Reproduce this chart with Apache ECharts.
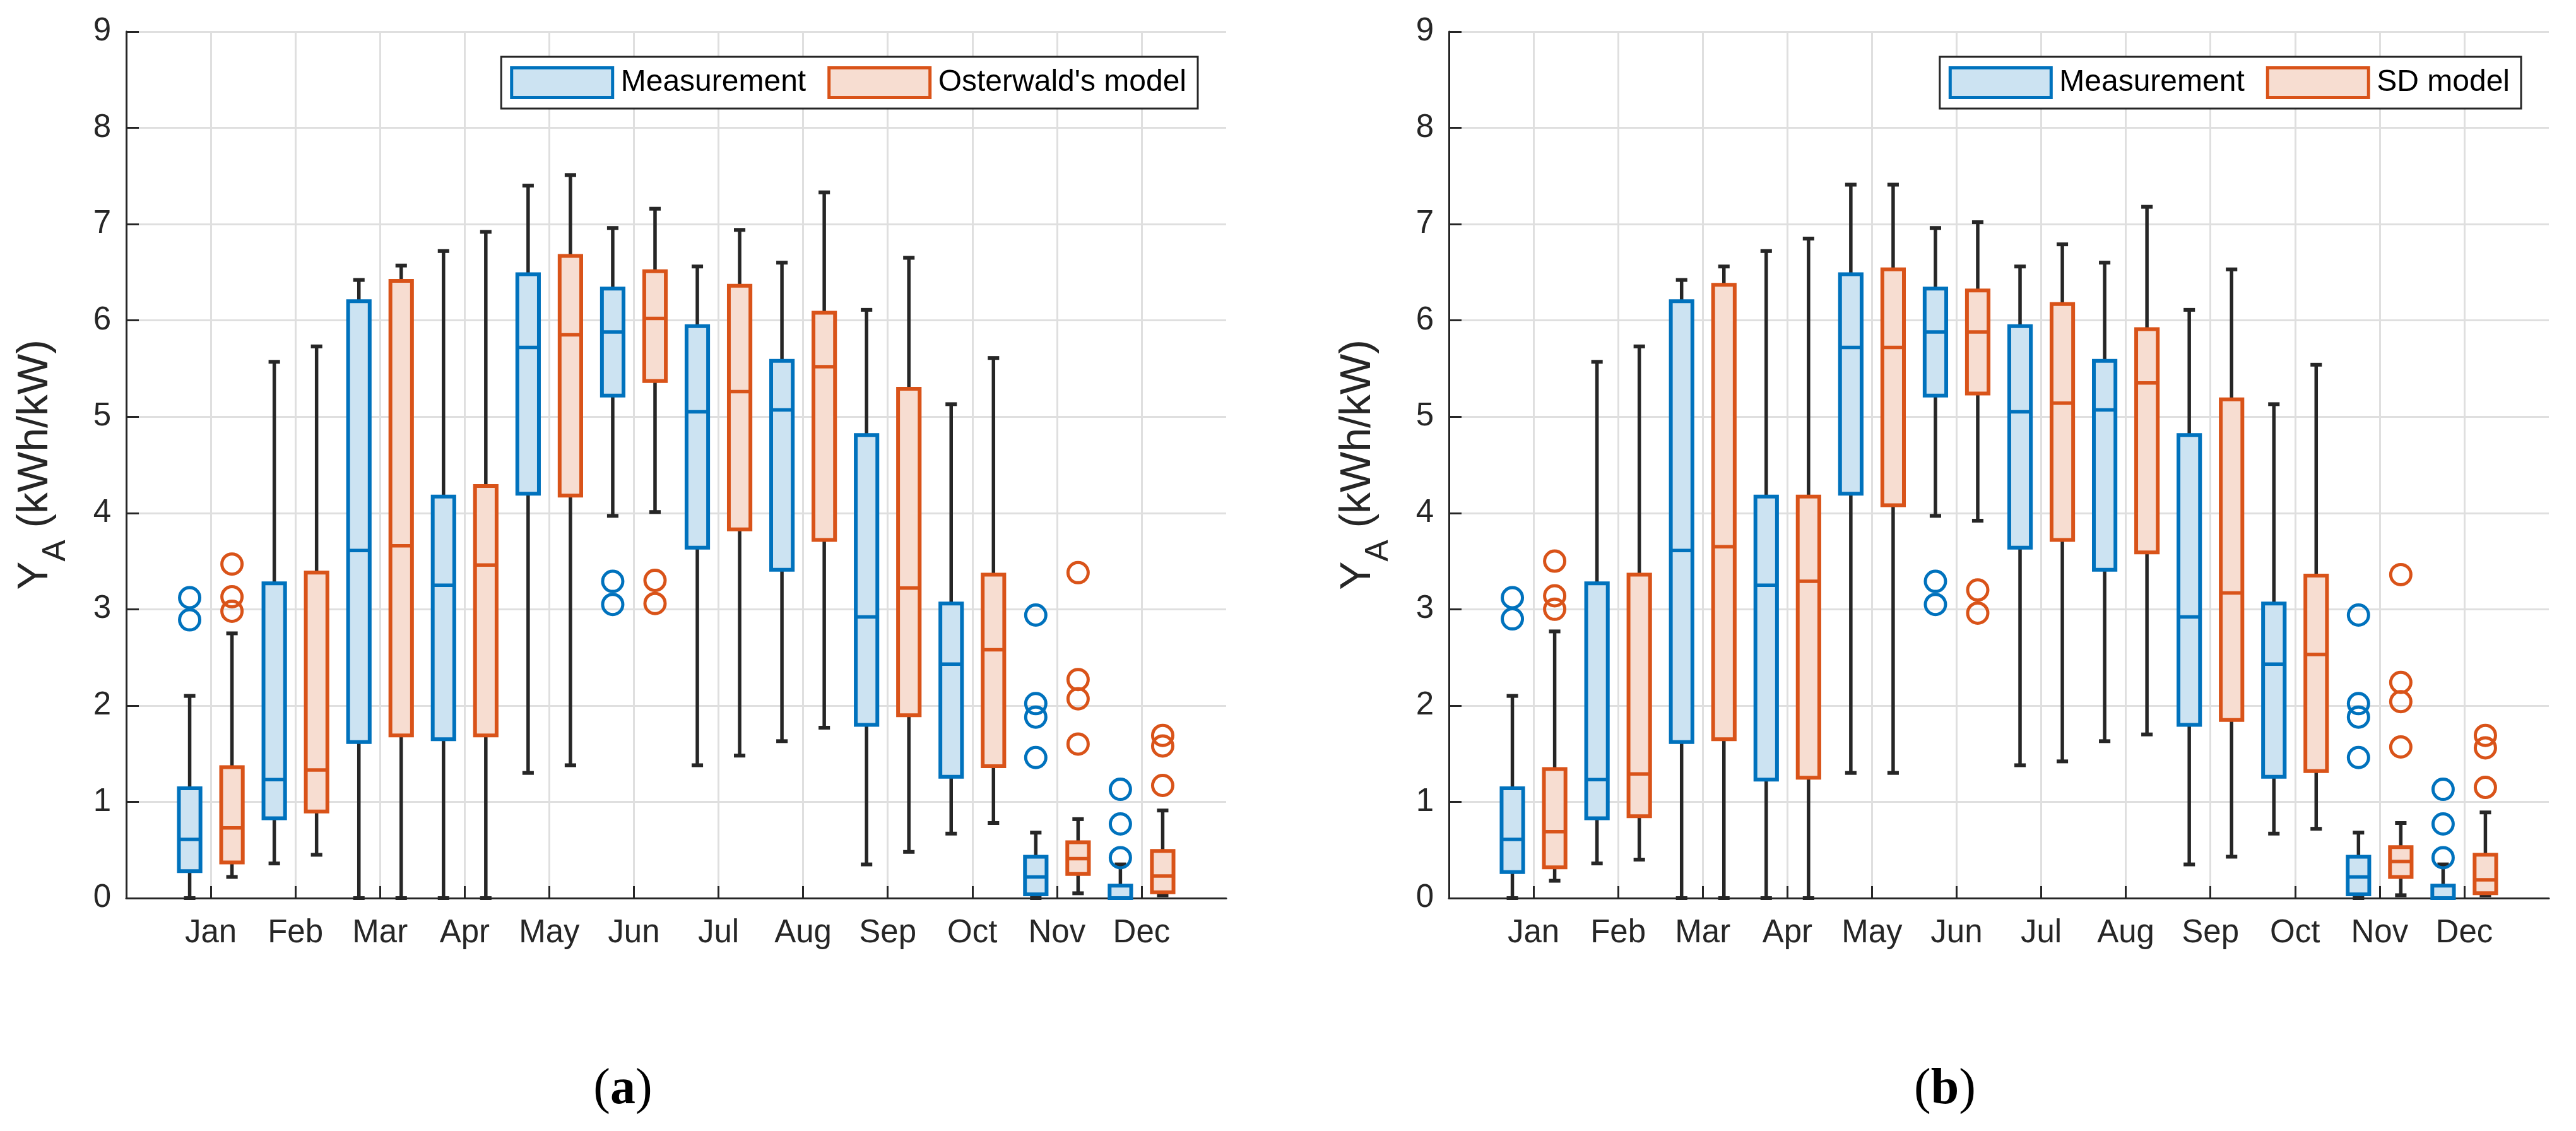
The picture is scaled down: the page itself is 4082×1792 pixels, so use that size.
<!DOCTYPE html>
<html>
<head>
<meta charset="utf-8">
<script src="https://cdn.jsdelivr.net/npm/echarts@6/dist/echarts.min.js"></script>
<style>html,body{margin:0;padding:0;background:#fff}#c{width:4082px;height:1792px}</style>
</head>
<body>
<div id="c"></div>
<script>
// ---- data ----
const months = ['Jan','Feb','Mar','Apr','May','Jun','Jul','Aug','Sep','Oct','Nov','Dec'];
const monthTicks = [1,2,3,4,5,6,7,8,9,10,11,12];

// [lower whisker, Q1, median, Q3, upper whisker]
const measA = [
  [0.00,0.28,0.61,1.14,2.10],[0.36,0.83,1.23,3.27,5.57],[0.00,1.62,3.61,6.20,6.42],
  [0.00,1.65,3.25,4.17,6.72],[1.30,4.20,5.72,6.48,7.40],[3.97,5.22,5.88,6.33,6.96],
  [1.38,3.64,5.05,5.94,6.56],[1.63,3.41,5.07,5.58,6.60],[0.35,1.80,2.92,4.81,6.11],
  [0.67,1.26,2.43,3.06,5.13],[0.00,0.04,0.22,0.43,0.68],[0.00,0.00,0.00,0.13,0.35]
];
const osterwald = [
  [0.22,0.37,0.73,1.36,2.75],[0.45,0.90,1.33,3.38,5.73],[0.00,1.69,3.66,6.41,6.57],
  [0.00,1.69,3.46,4.28,6.92],[1.38,4.18,5.85,6.67,7.51],[4.01,5.37,6.02,6.51,7.16],
  [1.48,3.83,5.26,6.36,6.94],[1.77,3.72,5.52,6.08,7.33],[0.48,1.90,3.22,5.29,6.65],
  [0.78,1.37,2.58,3.36,5.61],[0.05,0.25,0.41,0.58,0.82],[0.03,0.06,0.23,0.49,0.91]
];
const measB = [
  [0.00,0.27,0.61,1.14,2.10],[0.36,0.83,1.23,3.27,5.57],[0.00,1.62,3.61,6.20,6.42],
  [0.00,1.23,3.25,4.17,6.72],[1.30,4.20,5.72,6.48,7.41],[3.97,5.22,5.88,6.33,6.96],
  [1.38,3.64,5.05,5.94,6.56],[1.63,3.41,5.07,5.58,6.60],[0.35,1.80,2.92,4.81,6.11],
  [0.67,1.26,2.43,3.06,5.13],[0.00,0.04,0.22,0.43,0.68],[0.00,0.00,0.00,0.13,0.35]
];
const sdModel = [
  [0.18,0.32,0.69,1.34,2.77],[0.40,0.85,1.29,3.36,5.73],[0.00,1.65,3.65,6.37,6.56],
  [0.00,1.25,3.29,4.17,6.85],[1.30,4.08,5.72,6.53,7.41],[3.92,5.24,5.88,6.31,7.02],
  [1.42,3.72,5.14,6.17,6.79],[1.70,3.59,5.35,5.91,7.18],[0.43,1.85,3.17,5.18,6.53],
  [0.72,1.32,2.53,3.35,5.54],[0.03,0.22,0.38,0.53,0.78],[0.03,0.05,0.19,0.45,0.89]
];
// outliers per month
const measOutA = [[3.12,2.89],[],[],[],[],[3.29,3.05],[],[],[],[],[2.94,2.02,1.88,1.46],[1.13,0.77,0.42]];
const osterwaldOut = [[3.47,3.13,2.98],[],[],[],[],[3.30,3.06],[],[],[],[],[3.38,2.27,2.07,1.60],[1.69,1.58,1.17]];
const measOutB = [[3.12,2.90],[],[],[],[],[3.29,3.05],[],[],[],[],[2.94,2.02,1.88,1.46],[1.13,0.77,0.42]];
const sdOut = [[3.50,3.14,3.00],[],[],[],[],[3.20,2.96],[],[],[],[],[3.36,2.24,2.04,1.57],[1.69,1.56,1.15]];

// ---- styling ----
const BLUE = '#0072BD', BLUE_FILL = '#CCE3F2';
const ORANGE = '#D95319', ORANGE_FILL = '#F7DDD1';
const INK = '#262626';
const FONT = 'Liberation Sans, Arial, Helvetica, sans-serif';
const OFFSET = 0.25, BOX_W = 0.255, CAP_W = 0.135;

function boxData(arr, shift) { return arr.map((d, i) => [i + 1 + shift].concat(d)); }
function outData(arr, shift) {
  const out = [];
  arr.forEach((vals, i) => vals.forEach(v => out.push([i + 1 + shift, v])));
  return out;
}
function boxRender(color, fill) {
  return function (params, api) {
    const x = api.value(0);
    const lo = api.coord([x, api.value(1)]);
    const q1 = api.coord([x, api.value(2)]);
    const md = api.coord([x, api.value(3)]);
    const q3 = api.coord([x, api.value(4)]);
    const hi = api.coord([x, api.value(5)]);
    const bw = api.size([BOX_W, 0])[0];
    const cw = api.size([CAP_W, 0])[0];
    const cx = lo[0];
    const wl = {stroke: INK, lineWidth: 5.5};
    return {type: 'group', children: [
      {type: 'line', shape: {x1: cx, y1: hi[1], x2: cx, y2: q3[1]}, style: wl},
      {type: 'line', shape: {x1: cx, y1: q1[1], x2: cx, y2: lo[1]}, style: wl},
      {type: 'line', shape: {x1: cx - cw / 2, y1: hi[1], x2: cx + cw / 2, y2: hi[1]}, style: {stroke: INK, lineWidth: 6}},
      {type: 'line', shape: {x1: cx - cw / 2, y1: lo[1], x2: cx + cw / 2, y2: lo[1]}, style: {stroke: INK, lineWidth: 6}},
      {type: 'rect', shape: {x: cx - bw / 2, y: q3[1], width: bw, height: q1[1] - q3[1]},
        style: {fill: fill, stroke: color, lineWidth: 6}},
      {type: 'line', shape: {x1: cx - bw / 2, y1: md[1], x2: cx + bw / 2, y2: md[1]}, style: {stroke: color, lineWidth: 5.5}}
    ]};
  };
}
function boxSeries(name, arr, shift, color, fill, gi) {
  return {
    type: 'custom', name: name, xAxisIndex: gi, yAxisIndex: gi,
    data: boxData(arr, shift), encode: {x: 0, y: [1, 2, 3, 4, 5]},
    itemStyle: {color: fill, borderColor: color, borderWidth: 5},
    renderItem: boxRender(color, fill), clip: false, silent: true
  };
}
function outSeries(name, arr, shift, color, gi) {
  return {
    type: 'scatter', name: name, xAxisIndex: gi, yAxisIndex: gi,
    data: outData(arr, shift), symbol: 'circle', symbolSize: 32,
    itemStyle: {color: 'rgba(0,0,0,0)', borderColor: color, borderWidth: 5, opacity: 1},
    z: 5, silent: true
  };
}
function xAxisCfg(gi) {
  return {
    gridIndex: gi, type: 'value', min: 0, max: 13, interval: 1,
    axisLine: {show: true, lineStyle: {color: INK, width: 3}},
    axisTick: {show: true, inside: true, length: 19, lineStyle: {color: INK, width: 3}, customValues: monthTicks},
    axisLabel: {customValues: monthTicks, formatter: v => months[v - 1] || '', fontSize: 51, fontFamily: FONT, color: INK, margin: 30},
    splitLine: {show: true, lineStyle: {color: '#DFDFDF', width: 3}}
  };
}
function yAxisCfg(gi) {
  return {
    gridIndex: gi, type: 'value', min: 0, max: 9, interval: 1,
    axisLine: {show: true, lineStyle: {color: INK, width: 3}},
    axisTick: {show: true, inside: true, length: 20, lineStyle: {color: INK, width: 3}},
    axisLabel: {fontSize: 51, fontFamily: FONT, color: INK, margin: 24},
    splitLine: {show: true, lineStyle: {color: '#DFDFDF', width: 3}},
    name: '{y|Y}{s|A}{y| (kWh/kW)}', nameLocation: 'middle', nameRotate: 90, nameGap: 86,
    nameTextStyle: {color: INK, fontFamily: FONT, fontSize: 68,
      rich: {y: {fontSize: 68, fontFamily: FONT, color: INK},
             s: {fontSize: 51, fontFamily: FONT, color: INK, padding: [64, 0, 0, 0]}}}
  };
}
function legendCfg(names, fills, colors, right) {
  return {
    right: right, top: 90, orient: 'horizontal',
    data: names.map((n, i) => ({name: n, icon: 'rect', itemStyle: {color: fills[i], borderColor: colors[i], borderWidth: 5}})),
    itemWidth: 160, itemHeight: 47, itemGap: 34,
    padding: [15, 18, 15, 14], borderColor: INK, borderWidth: 3, backgroundColor: '#fff',
    textStyle: {fontSize: 48, fontFamily: FONT, color: '#000', padding: [0, 0, 0, 8]},
    selectedMode: false
  };
}

const chart = echarts.init(document.getElementById('c'), null, {renderer: 'canvas'});
chart.setOption({
  animation: false,
  backgroundColor: '#fff',
  grid: [
    {left: 200, top: 50, width: 1743, height: 1373},
    {left: 2296, top: 50, width: 1743, height: 1373}
  ],
  xAxis: [xAxisCfg(0), xAxisCfg(1)],
  yAxis: [yAxisCfg(0), yAxisCfg(1)],
  legend: [
    legendCfg(['Measurement', "Osterwald's model"], [BLUE_FILL, ORANGE_FILL], [BLUE, ORANGE], 2184),
    legendCfg(['Measurement', 'SD model'], [BLUE_FILL, ORANGE_FILL], [BLUE, ORANGE], 87)
  ],
  graphic: [
    {type: 'text', x: 987, y: 1727, style: {text: '{p|(}{b|a}{p|)}', align: 'center', verticalAlign: 'middle',
      rich: {p: {fontFamily: 'Liberation Serif, Times New Roman, serif', fontSize: 80, fill: '#000'},
             b: {fontFamily: 'Liberation Serif, Times New Roman, serif', fontSize: 80, fontWeight: 'bold', fill: '#000'}}}},
    {type: 'text', x: 3082, y: 1727, style: {text: '{p|(}{b|b}{p|)}', align: 'center', verticalAlign: 'middle',
      rich: {p: {fontFamily: 'Liberation Serif, Times New Roman, serif', fontSize: 80, fill: '#000'},
             b: {fontFamily: 'Liberation Serif, Times New Roman, serif', fontSize: 80, fontWeight: 'bold', fill: '#000'}}}}
  ],
  series: [
    boxSeries('Measurement', measA, -OFFSET, BLUE, BLUE_FILL, 0),
    boxSeries("Osterwald's model", osterwald, OFFSET, ORANGE, ORANGE_FILL, 0),
    outSeries('Measurement outliers A', measOutA, -OFFSET, BLUE, 0),
    outSeries("Osterwald's model outliers", osterwaldOut, OFFSET, ORANGE, 0),
    boxSeries('Measurement', measB, -OFFSET, BLUE, BLUE_FILL, 1),
    boxSeries('SD model', sdModel, OFFSET, ORANGE, ORANGE_FILL, 1),
    outSeries('Measurement outliers B', measOutB, -OFFSET, BLUE, 1),
    outSeries('SD model outliers', sdOut, OFFSET, ORANGE, 1)
  ]
});
</script>
</body>
</html>
